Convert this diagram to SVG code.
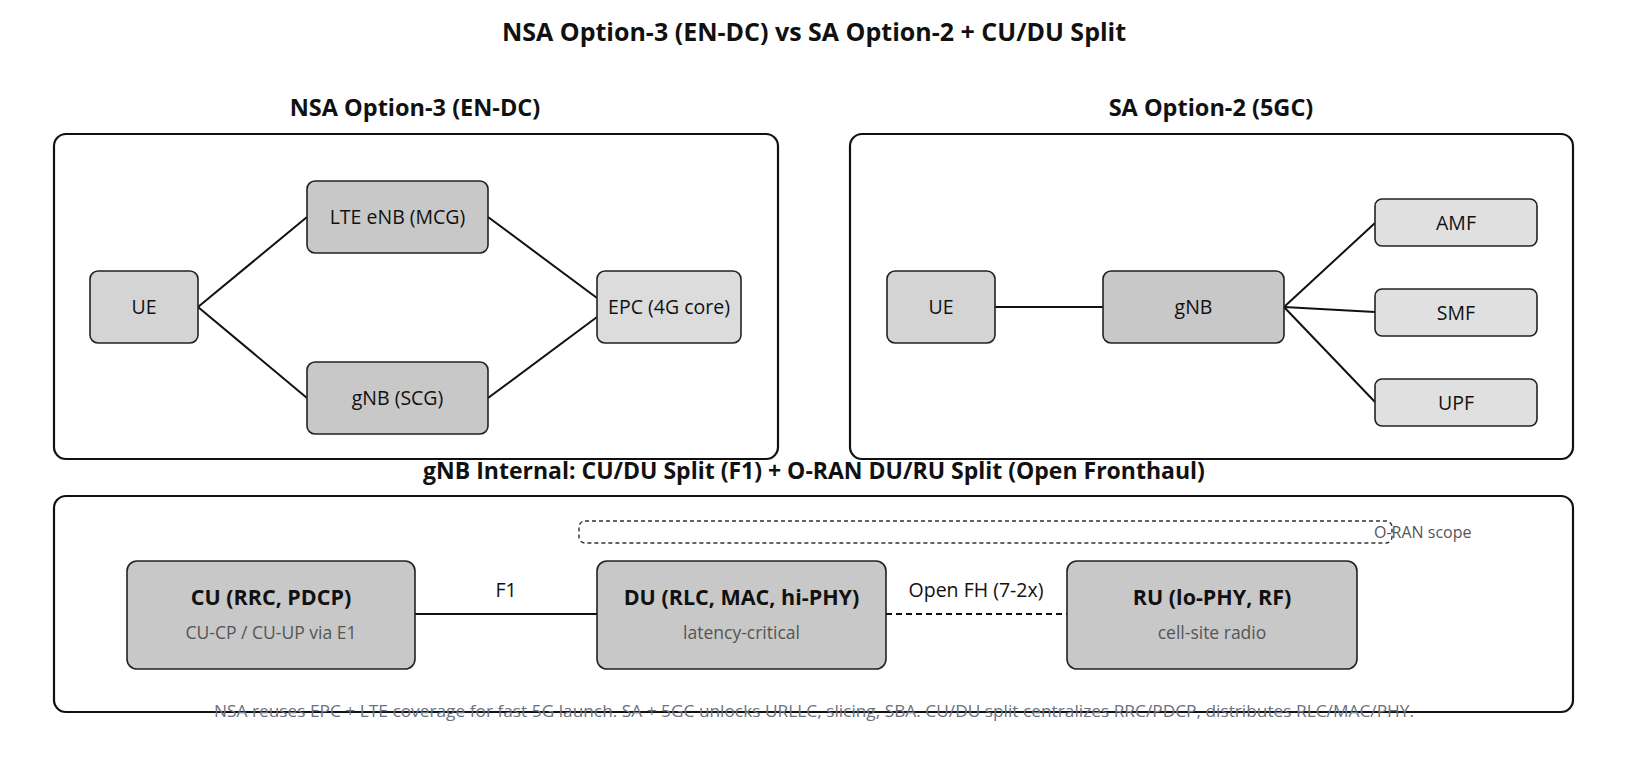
<svg xmlns="http://www.w3.org/2000/svg" width="1628" height="760" viewBox="0 0 1628 760">
<style>
text{font-family:"Open Sans","Noto Sans","DejaVu Sans",sans-serif;}
.title{font-size:25px;font-weight:700;fill:#111;text-anchor:middle;}
.sub{font-size:23.5px;font-weight:700;fill:#111;text-anchor:middle;}
.panel{fill:#fff;stroke:#111;stroke-width:2.2;}
.node{stroke:#222;stroke-width:1.6;}
.dark{fill:#c8c8c8;}
.mid{fill:#d4d4d4;}
.light{fill:#dcdcdc;}
.lighter{fill:#e0e0e0;}
.lbl{font-size:19.5px;fill:#111;text-anchor:middle;}
.big{font-size:21.5px;font-weight:700;fill:#111;text-anchor:middle;}
.small{font-size:17.5px;fill:#555;text-anchor:middle;}
.edge{stroke:#111;stroke-width:2;fill:none;}
.elbl{font-size:19.5px;fill:#111;text-anchor:middle;}
.note{font-size:17px;fill:#6b7280;}
</style>
<rect width="1628" height="760" fill="#fff"/>
<text class="title" x="814" y="41">NSA Option-3 (EN-DC) vs SA Option-2 + CU/DU Split</text>
<g id="panel-nsa">
<text class="sub" x="415" y="116">NSA Option-3 (EN-DC)</text>
<rect class="panel" x="54" y="134" width="724" height="325" rx="12"/>
</g>
<g id="panel-sa">
<text class="sub" x="1211" y="116">SA Option-2 (5GC)</text>
<rect class="panel" x="850" y="134" width="723" height="325" rx="12"/>
</g>
<g id="panel-split">
<rect class="panel" x="54" y="496" width="1519" height="216" rx="12"/>
<text class="sub" x="814" y="479" style="font-size:23px">gNB Internal: CU/DU Split (F1) + O-RAN DU/RU Split (Open Fronthaul)</text>
</g>
<g id="connectors">
<line class="edge" x1="198" y1="307" x2="307" y2="217"/>
<line class="edge" x1="198" y1="307" x2="307" y2="398"/>
<line class="edge" x1="488" y1="217" x2="597" y2="298"/>
<line class="edge" x1="488" y1="398" x2="597" y2="317"/>
<line class="edge" x1="995" y1="307" x2="1103" y2="307"/>
<line class="edge" x1="1284" y1="307" x2="1375" y2="223"/>
<line class="edge" x1="1284" y1="307" x2="1375" y2="312"/>
<line class="edge" x1="1284" y1="307" x2="1375" y2="402"/>
<line class="edge" x1="415" y1="614" x2="597" y2="614" stroke-width="2.6"/>
<text class="elbl" x="506" y="597">F1</text>
<line class="edge" x1="886" y1="614" x2="1067" y2="614" stroke-width="3" stroke-dasharray="6 4"/>
<text class="elbl" x="976" y="597">Open FH (7-2x)</text>
</g>
<g id="oran-scope">
<rect x="579" y="521" width="813" height="22" rx="6" fill="none" stroke="#333" stroke-width="1.4" stroke-dasharray="4 3"/>
<text x="1374" y="538" fill="#555" style="font-size:16px">O-RAN scope</text>
</g>
<g id="ue-nsa"><rect class="node mid" x="90" y="271" width="108" height="72" rx="8"/><text class="lbl" x="144" y="314">UE</text></g>
<g id="lte-enb"><rect class="node dark" x="307" y="181" width="181" height="72" rx="8"/><text class="lbl" x="397.5" y="224">LTE eNB (MCG)</text></g>
<g id="gnb-scg"><rect class="node dark" x="307" y="362" width="181" height="72" rx="8"/><text class="lbl" x="397.5" y="405">gNB (SCG)</text></g>
<g id="epc"><rect class="node light" x="597" y="271" width="144" height="72" rx="8"/><text class="lbl" x="669" y="314">EPC (4G core)</text></g>
<g id="ue-sa"><rect class="node mid" x="887" y="271" width="108" height="72" rx="8"/><text class="lbl" x="941" y="314">UE</text></g>
<g id="gnb-sa"><rect class="node dark" x="1103" y="271" width="181" height="72" rx="8"/><text class="lbl" x="1193.5" y="314">gNB</text></g>
<g id="amf"><rect class="node lighter" x="1375" y="199" width="162" height="47" rx="7"/><text class="lbl" x="1456" y="230">AMF</text></g>
<g id="smf"><rect class="node lighter" x="1375" y="289" width="162" height="47" rx="7"/><text class="lbl" x="1456" y="320">SMF</text></g>
<g id="upf"><rect class="node lighter" x="1375" y="379" width="162" height="47" rx="7"/><text class="lbl" x="1456" y="410">UPF</text></g>
<g id="cu"><rect class="node dark" x="127" y="561" width="288" height="108" rx="10"/><text class="big" x="271" y="605">CU (RRC, PDCP)</text><text class="small" x="271" y="639">CU-CP / CU-UP via E1</text></g>
<g id="du"><rect class="node dark" x="597" y="561" width="289" height="108" rx="10"/><text class="big" x="741.5" y="605">DU (RLC, MAC, hi-PHY)</text><text class="small" x="741.5" y="639">latency-critical</text></g>
<g id="ru"><rect class="node dark" x="1067" y="561" width="290" height="108" rx="10"/><text class="big" x="1212" y="605">RU (lo-PHY, RF)</text><text class="small" x="1212" y="639">cell-site radio</text></g>
<text class="note" x="214" y="717" textLength="1200" lengthAdjust="spacingAndGlyphs">NSA reuses EPC + LTE coverage for fast 5G launch. SA + 5GC unlocks URLLC, slicing, SBA. CU/DU split centralizes RRC/PDCP, distributes RLC/MAC/PHY.</text>
</svg>
